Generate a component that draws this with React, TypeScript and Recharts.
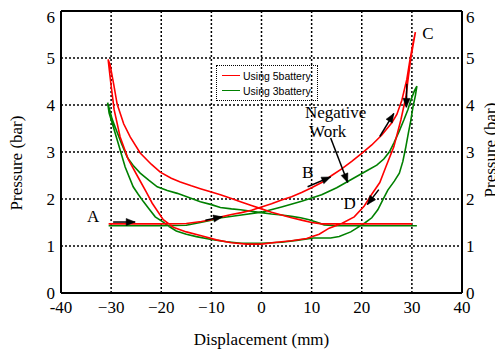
import React from "react";
import { LineChart, Line, XAxis, YAxis, CartesianGrid, ReferenceLine, ReferenceDot } from "recharts";

// ---- data ----
const xTicks = [-40, -30, -20, -10, 0, 10, 20, 30, 40];
const yTicks = [0, 1, 2, 3, 4, 5, 6];

const seriesNames = ["Using 5battery", "Using 3battery"];

// Red loop (5 battery), in path order
const redX = [
  -30.5, -25, -20, -15, -12, -10, -8, -6, -4, -2, 0, 2, 4, 6, 8, 10, 12, 14, 16, 18, 20, 22, 24, 26, 27, 28, 29, 29.6, 30.2, 30.7,
  30.2, 29.8, 29.3, 28.8, 27.8, 26.4, 24.8, 23.6, 22, 20.5, 18.5, 16, 13.5, 11.5, 9, 6, 3, 0, -3, -6, -9, -12, -15, -17.6, -19.6,
  -21.8, -23, -24.4, -26.6, -28.2, -29.4, -30.1, -30.6,
  -30.2, -29.5, -28.8, -27.5, -26.2, -24.2, -22, -20.2, -18, -16.2, -14, -12.2, -10, -8.2, -6, -4.2, -2, 0, 2, 4, 6, 8, 10, 12,
  16, 20, 25, 30,
];
const redY = [
  1.47, 1.47, 1.47, 1.48, 1.52, 1.56, 1.62, 1.67, 1.71, 1.76, 1.83, 1.9, 1.98, 2.05, 2.14, 2.24, 2.35, 2.5, 2.64, 2.8, 2.97, 3.15,
  3.36, 3.62, 3.8, 4.1, 4.55, 4.95, 5.3, 5.55,
  5.25, 5.0, 4.6, 4.17, 3.68, 3.11, 2.68, 2.35, 2.1, 1.85, 1.62, 1.48, 1.38, 1.25, 1.16, 1.11, 1.08, 1.04, 1.04, 1.07, 1.13, 1.22,
  1.3, 1.4, 1.56, 1.91, 2.15, 2.42, 2.85, 3.32, 3.9, 4.5, 4.97,
  4.85, 4.45, 4.02, 3.6, 3.32, 2.98, 2.74, 2.57, 2.44, 2.36, 2.28, 2.22, 2.15, 2.09, 2.01, 1.94, 1.86, 1.79, 1.72, 1.66, 1.6,
  1.55, 1.5, 1.47, 1.47, 1.47, 1.47, 1.47,
];

// Green loop (3 battery), in path order
const greenX = [
  -30.5, -25, -20, -15, -12.2, -10, -8, -4, 0, 4, 8, 12, 15, 18, 21, 23, 24.4, 25.5, 26.4, 27.5, 28.4, 29.2, 29.8, 30.5, 31,
  30.7, 30.2, 29.8, 29.3, 28.8, 28.2, 27.5, 26.5, 25.2, 24.2, 23.2, 22, 20.6, 19, 17.8, 15.5, 13.8, 10.4, 7, 4, 0, -4, -7, -10,
  -13, -15, -17, -18.5, -19.6, -21.2, -22.5, -23.6, -24.6, -25.6, -27.2, -28.8, -29.6, -30.4, -30.7,
  -30.3, -29.8, -29.2, -28, -26.8, -25.5, -24.2, -22.5, -20.8, -18.8, -16.8, -14.5, -12.2, -10, -8.2, -6, -4.2, -2, 0, 2, 4, 6,
  7.8, 9.5, 11.2, 12.5, 15, 20, 25, 31,
];
const greenY = [
  1.43, 1.43, 1.43, 1.44, 1.5, 1.55, 1.6, 1.66, 1.72, 1.83, 1.95, 2.09, 2.24, 2.42, 2.6, 2.72, 2.85, 3.0, 3.19, 3.45, 3.68, 3.9,
  4.1, 4.3, 4.4,
  4.2, 3.95, 3.68, 3.4, 3.11, 2.8, 2.55, 2.38, 2.19, 1.98, 1.77, 1.6, 1.49, 1.38, 1.3, 1.2, 1.17, 1.17, 1.12, 1.08, 1.06, 1.06,
  1.09, 1.14, 1.2, 1.25, 1.32, 1.42, 1.51, 1.62, 1.8, 1.95, 2.1, 2.26, 2.68, 3.26, 3.55, 3.83, 4.05,
  3.9, 3.7, 3.53, 3.2, 2.89, 2.7, 2.55, 2.4, 2.26, 2.18, 2.12, 2.03, 1.94, 1.88, 1.82, 1.79, 1.77, 1.74, 1.71, 1.68, 1.66, 1.63,
  1.6, 1.56, 1.5, 1.45, 1.43, 1.43, 1.43, 1.43,
];

// Arrows: [x1, y1, x2, y2]
const arrows = [
  [-29.6, 1.51, -25.2, 1.51],
  [-11.2, 1.55, -7.8, 1.62],
  [9.2, 2.26, 13.8, 2.47],
  [23.6, 3.33, 26.4, 3.82],
  [29.0, 4.45, 28.9, 3.95],
  [13.8, 3.3, 17.2, 2.35],
  [23.4, 2.2, 21.1, 1.88],
];

// Annotation labels
const labelTexts = ["A", "B", "C", "D", "Negative", "Work"];
const labelX = [-33.6, 9.2, 33.2, 17.6, 14.8, 13.2];
const labelY = [1.62, 2.57, 5.53, 1.91, 3.85, 3.43];

// ---- build ----
const zip = (xs: number[], ys: number[]) => xs.map((x, i) => ({ x, y: ys[i] }));
const redData = zip(redX, redY);
const greenData = zip(greenX, greenY);
const arrowData = arrows.map((a) => [
  { x: a[0], y: a[1] },
  { x: a[2], y: a[3] },
]);

const SERIF = "'Liberation Serif', 'Times New Roman', Times, serif";
const SANS = "'Liberation Sans', Arial, Helvetica, sans-serif";
const FS = 17;

const ArrowHead = (props: any) => {
  const { cx, cy, index, points } = props;
  if (index !== 1 || !points || points.length < 2) return <g key={`ah-${index}`} />;
  const p0 = points[0];
  const ang = Math.atan2(cy - p0.y, cx - p0.x);
  const L = 9;
  const W = 3.6;
  const c = Math.cos(ang);
  const s = Math.sin(ang);
  const bx = cx - L * c;
  const by = cy - L * s;
  const pts = `${cx},${cy} ${bx - W * s},${by + W * c} ${bx + W * s},${by - W * c}`;
  return <polygon key={`ah-${index}`} points={pts} fill="#000" stroke="#000" strokeWidth={0.5} />;
};

const fmtX = (v: number) => (v < 0 && v !== -40 ? `\u2212${Math.abs(v)}` : `${v}`);

const XTick = (p: any) => (
  <text x={p.x} y={p.y} dy="0.71em" textAnchor="middle" fontFamily={SERIF} fontSize={FS} fill="#000">
    {fmtX(p.payload.value)}
  </text>
);
const YTickLeft = (p: any) => (
  <text x={p.x} y={p.y} dy="0.355em" textAnchor="end" fontFamily={SERIF} fontSize={FS} fill="#000">
    {p.payload.value}
  </text>
);
const YTickRight = (p: any) => (
  <text x={p.x} y={p.y} dy="0.355em" textAnchor="start" fontFamily={SERIF} fontSize={FS} fill="#000">
    {p.payload.value}
  </text>
);

const XLabel = (props: any) => {
  const vb = props.viewBox || { x: 0, y: 0, width: 0, height: 0 };
  return (
    <text x={vb.x + vb.width / 2} y={vb.y + vb.height - 6} textAnchor="middle" fontFamily={SERIF} fontSize={FS} fill="#000">
      Displacement (mm)
    </text>
  );
};

const LeftLabel = (props: any) => {
  const vb = props.viewBox || { x: 0, y: 0, width: 0, height: 0 };
  const x = vb.x + 8;
  const y = vb.y + vb.height / 2 + 11;
  return (
    <text x={x} y={y} transform={`rotate(-90, ${x}, ${y})`} textAnchor="middle" dominantBaseline="central"
      fontFamily={SERIF} fontSize={FS} fill="#000">
      Pressure (bar)
    </text>
  );
};

const RightLabel = (props: any) => {
  const vb = props.viewBox || { x: 0, y: 0, width: 0, height: 0 };
  const x = vb.x + 28;
  const y = vb.y + vb.height / 2 - 2;
  return (
    <text x={x} y={y} transform={`rotate(-90, ${x}, ${y})`} textAnchor="middle" dominantBaseline="central"
      fontFamily={SERIF} fontSize={FS} fill="#000">
      Pressure (bar)
    </text>
  );
};

export default function App() {
  return (
    <div style={{ position: "relative", width: 495, height: 343, fontFamily: SERIF }}>
      <LineChart width={495} height={343} margin={{ top: 3, right: 0, bottom: 0, left: 0 }}>
        <CartesianGrid yAxisId="left" stroke="#000" strokeDasharray="2 2" strokeWidth={1.5} />
        <XAxis
          dataKey="x"
          type="number"
          domain={[-40, 40]}
          ticks={xTicks}
          allowDataOverflow
          height={58}
          tickSize={0}
          tickMargin={8}
          tickLine={false}
          tick={<XTick />}
          axisLine={{ stroke: "#000", strokeWidth: 2 }}
          label={<XLabel />}
        />
        <YAxis
          yAxisId="left"
          type="number"
          domain={[0, 6]}
          ticks={yTicks}
          allowDataOverflow
          width={53}
          tickSize={0}
          tickMargin={6}
          tickLine={false}
          tick={<YTickLeft />}
          axisLine={{ stroke: "#000", strokeWidth: 2 }}
          label={<LeftLabel />}
        />
        <YAxis
          yAxisId="right"
          orientation="right"
          type="number"
          domain={[0, 6]}
          ticks={yTicks}
          allowDataOverflow
          width={41}
          tickSize={0}
          tickMargin={4}
          tickLine={false}
          tick={<YTickRight />}
          axisLine={{ stroke: "#000", strokeWidth: 2 }}
          label={<RightLabel />}
        />
        <ReferenceLine yAxisId="left" y={6} stroke="#000" strokeWidth={2} />
        <Line yAxisId="left" data={greenData} dataKey="y" stroke="#008000" strokeWidth={1.6} dot={false} activeDot={false}
          isAnimationActive={false} name={seriesNames[1]} />
        <Line yAxisId="left" data={redData} dataKey="y" stroke="#ff0000" strokeWidth={1.6} dot={false} activeDot={false}
          isAnimationActive={false} name={seriesNames[0]} />
        <Line yAxisId="right" data={redData} dataKey="y" stroke="none" dot={false} activeDot={false}
          isAnimationActive={false} legendType="none" />
        {arrowData.map((d, i) => (
          <Line key={`arrow-${i}`} yAxisId="left" data={d} dataKey="y" stroke="#000" strokeWidth={1.5}
            dot={<ArrowHead />} activeDot={false} isAnimationActive={false} legendType="none" />
        ))}
        {labelTexts.map((t, i) => (
          <ReferenceDot key={`lbl-${i}`} yAxisId="left" x={labelX[i]} y={labelY[i]} r={0} ifOverflow="visible"
            shape={(p: any) => (
              <text x={p.cx} y={p.cy} textAnchor="middle" dominantBaseline="central" fontFamily={SERIF}
                fontSize={FS} fill="#000">
                {t}
              </text>
            )}
          />
        ))}
      </LineChart>
      <div
        style={{
          position: "absolute",
          left: 208,
          top: 57,
          width: 100,
          height: 34,
          border: "1.5px dotted #000",
          fontFamily: SANS,
          fontSize: 10.5,
          color: "#000",
        }}
      >
        {seriesNames.map((n, i) => (
          <div key={n} style={{ position: "absolute", left: 5, top: 3 + i * 15, height: 13, display: "flex", alignItems: "center" }}>
            <div style={{ width: 18, height: 0, borderTop: `1.8px solid ${i === 0 ? "#ff0000" : "#008000"}` }} />
            <span style={{ marginLeft: 3, whiteSpace: "nowrap" }}>{n}</span>
          </div>
        ))}
      </div>
    </div>
  );
}
